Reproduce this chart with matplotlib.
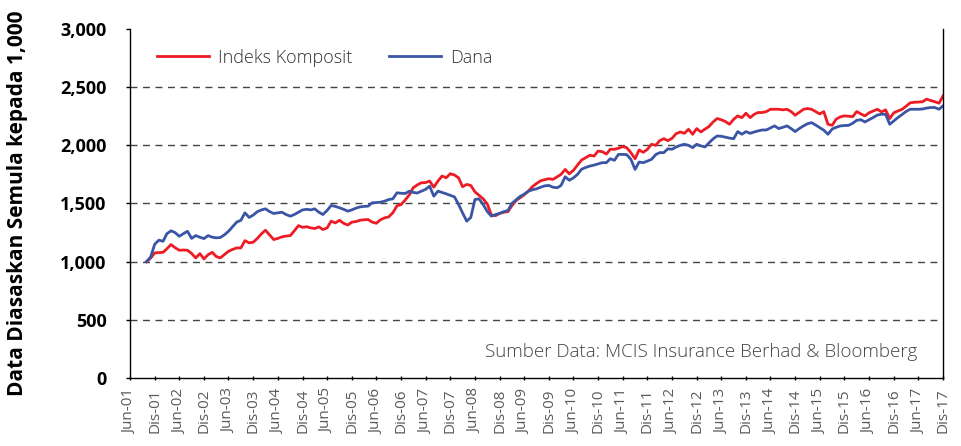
import numpy as np
import pandas as pd
import matplotlib
matplotlib.use("Agg")
import matplotlib.pyplot as plt

plt.rcParams['font.family'] = ['Open Sans', 'DejaVu Sans']

# monthly index values, Oct 2001 .. Dec 2017 (base 1,000)
dates = pd.date_range('2001-10-01', '2017-12-01', freq='MS')

indeks_komposit = [
    1000, 1030, 1075, 1078, 1080, 1110, 1147, 1120, 1098, 1100, 1098, 1070,
    1032, 1069, 1023, 1060, 1080, 1045, 1032, 1060, 1089, 1105, 1118, 1118,
    1181, 1161, 1167, 1200, 1240, 1270, 1230, 1190, 1200, 1213, 1220, 1224,
    1265, 1310, 1295, 1300, 1290, 1285, 1299, 1276, 1290, 1348, 1333, 1356,
    1330, 1315, 1339, 1345, 1356, 1360, 1362, 1340, 1330, 1360, 1376, 1385,
    1420, 1480, 1491, 1530, 1575, 1635, 1660, 1678, 1680, 1693, 1640, 1693,
    1736, 1721, 1756, 1745, 1720, 1644, 1664, 1655, 1600, 1570, 1540, 1495,
    1400, 1395, 1415, 1425, 1430, 1480, 1525, 1549, 1575, 1605, 1645, 1672,
    1695, 1705, 1713, 1707, 1730, 1750, 1793, 1755, 1785, 1830, 1874, 1894,
    1915, 1908, 1951, 1945, 1925, 1966, 1966, 1975, 1989, 1980, 1937, 1885,
    1960, 1940, 1965, 2009, 2000, 2040, 2057, 2040, 2060, 2100, 2115, 2103,
    2138, 2095, 2144, 2115, 2140, 2161, 2200, 2230, 2220, 2205, 2181, 2224,
    2253, 2238, 2276, 2238, 2267, 2282, 2282, 2290, 2310, 2310, 2310, 2305,
    2310, 2290, 2259, 2285, 2310, 2316, 2310, 2290, 2270, 2290, 2181, 2172,
    2225, 2245, 2253, 2250, 2247, 2290, 2270, 2253, 2280, 2295, 2310, 2287,
    2305, 2230, 2280, 2295, 2310, 2335, 2365, 2370, 2372, 2374, 2397, 2385,
    2375, 2362, 2425,
]

dana = [
    1000, 1040, 1150, 1185, 1175, 1240, 1265, 1250, 1218, 1240, 1261, 1200,
    1224, 1210, 1198, 1224, 1210, 1205, 1207, 1230, 1261, 1300, 1340, 1356,
    1420, 1380, 1400, 1430, 1445, 1454, 1430, 1414, 1420, 1425, 1405, 1391,
    1405, 1425, 1445, 1450, 1445, 1454, 1425, 1405, 1440, 1483, 1475, 1463,
    1450, 1434, 1445, 1460, 1471, 1475, 1477, 1506, 1508, 1511, 1520, 1534,
    1540, 1592, 1588, 1586, 1606, 1595, 1590, 1606, 1621, 1649, 1563, 1606,
    1595, 1583, 1570, 1557, 1491, 1420, 1348, 1380, 1534, 1540, 1491, 1430,
    1391, 1405, 1415, 1430, 1440, 1500, 1530, 1560, 1580, 1605, 1618, 1626,
    1640, 1652, 1655, 1640, 1635, 1655, 1730, 1700, 1720, 1750, 1795, 1810,
    1822, 1830, 1840, 1851, 1851, 1885, 1871, 1922, 1922, 1920, 1880, 1793,
    1856, 1851, 1865, 1879, 1920, 1937, 1937, 1970, 1966, 1985, 2000, 2009,
    2000, 1980, 2009, 1995, 1986, 2020, 2055, 2080, 2078, 2070, 2062, 2057,
    2118, 2095, 2118, 2103, 2115, 2124, 2132, 2132, 2150, 2167, 2144, 2155,
    2167, 2144, 2118, 2145, 2167, 2185, 2195, 2175, 2152, 2130, 2095, 2140,
    2155, 2167, 2170, 2172, 2190, 2215, 2220, 2201, 2220, 2239, 2260, 2267,
    2267, 2181, 2210, 2239, 2265, 2290, 2310, 2310, 2310, 2312, 2320, 2325,
    2325, 2310, 2339,
]

tick_dates = pd.date_range('2001-06-01', '2017-12-01', freq='6MS')
tick_labels = [('Jun-' if d.month == 6 else 'Dis-') + d.strftime('%y') for d in tick_dates]

fig = plt.figure(figsize=(9.61, 4.46), dpi=100)
ax = fig.add_axes([0.1353, 0.1525, 0.846, 0.7825])

ax.plot(dates, indeks_komposit, color='#ed1c24', lw=2.0, label='Indeks Komposit')
ax.plot(dates, dana, color='#3a55a5', lw=2.0, label='Dana')

ax.set_xlim(tick_dates[0], tick_dates[-1])
ax.set_ylim(0, 3000)
ax.set_yticks(range(0, 3001, 500))
ax.set_yticklabels([f'{v:,}' for v in range(0, 3001, 500)], fontsize=13, fontweight='bold')
ax.set_xticks(tick_dates)
ax.set_xticklabels(tick_labels, rotation=90, fontsize=11, color='#5a5a5a')

for v in range(500, 3000, 500):
    ax.axhline(v, color='#444444', lw=1, ls=(0, (5, 4)), zorder=0)

ax.spines['top'].set_visible(False)
for s in ('left', 'bottom', 'right'):
    ax.spines[s].set_color('black')
    ax.spines[s].set_linewidth(1)
ax.tick_params(axis='y', length=3, width=1, pad=14)
ax.tick_params(axis='x', length=3, width=1, direction='inout', pad=6)

ax.set_ylabel('Data Diasaskan Semula kepada 1,000', fontsize=15, fontweight='bold')
ax.yaxis.set_label_coords(-0.125, 0.5)

leg = ax.legend(loc='upper left', bbox_to_anchor=(0.013, 0.99), ncol=2, frameon=False,
                fontsize=13, handlelength=2.9, handletextpad=0.5, columnspacing=2.0)
for t in leg.get_texts():
    t.set_color('#333333')
    t.set_fontweight('light')

ax.text(0.968, 0.075, 'Sumber Data: MCIS Insurance Berhad & Bloomberg', transform=ax.transAxes,
        ha='right', va='center', fontsize=13.5, color='#444444', fontweight='light')

fig.savefig('out.png', dpi=100)
